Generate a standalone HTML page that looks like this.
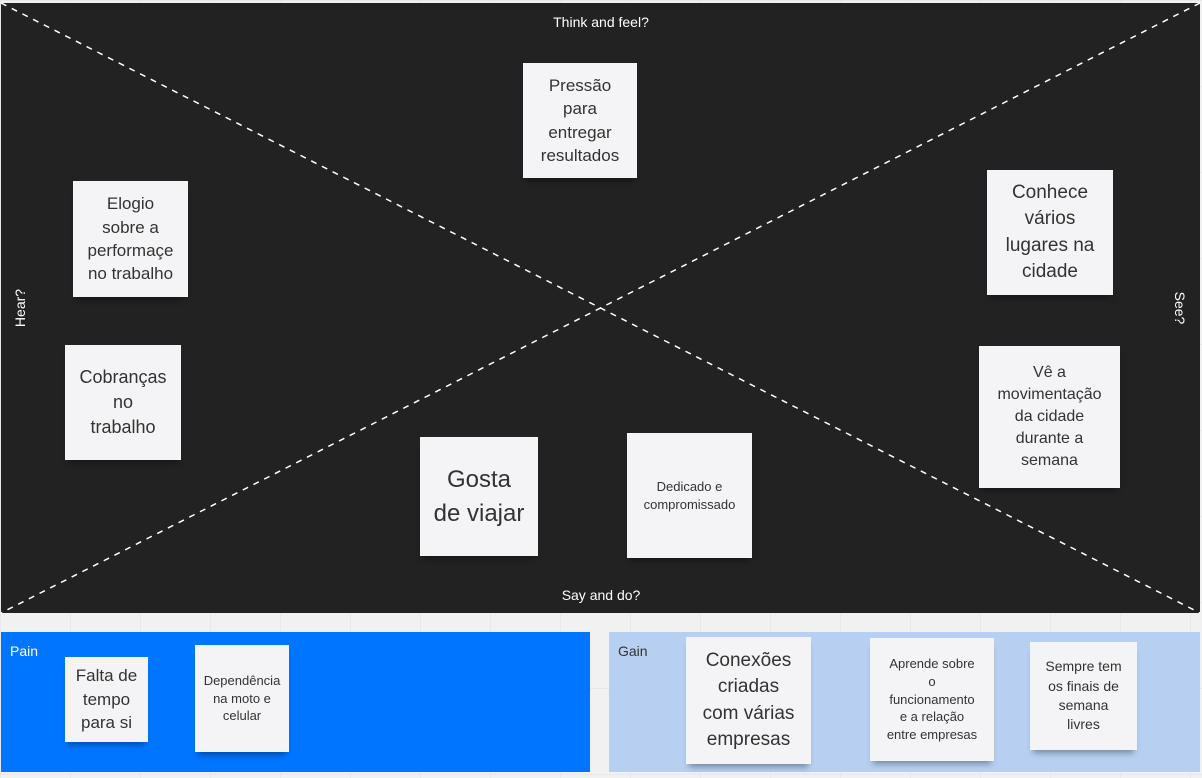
<!DOCTYPE html>
<html><head><meta charset="utf-8"><style>
body{margin:0;width:1202px;height:778px;background:#f1f1f1;position:relative;overflow:hidden;font-family:"Liberation Sans",sans-serif;
background-image:linear-gradient(#e8e8e8 1px,transparent 1px),linear-gradient(90deg,#e8e8e8 1px,transparent 1px);background-size:70px 86px;background-position:0 0}
.n{position:absolute;background:#f4f4f6;color:#333;display:flex;align-items:center;justify-content:center;text-align:center;box-shadow:0 6px 6px -3px rgba(0,0,0,0.35);line-height:1.38;box-sizing:border-box;white-space:nowrap}
.l{position:absolute;color:#fff;font-size:14px}
</style></head><body>
<div style="position:absolute;left:1px;top:3px;width:1199px;height:610px;background:#222"></div>
<svg style="position:absolute;left:0;top:0" width="1202" height="778">
<line x1="1" y1="3" x2="1200" y2="613" stroke="#fff" stroke-width="1.5" stroke-dasharray="6,6"/>
<line x1="1200" y1="3" x2="1" y2="613" stroke="#fff" stroke-width="1.5" stroke-dasharray="6,6"/>
</svg>
<div class="l" style="left:0;width:1202px;top:14px;text-align:center">Think and feel?</div>
<div class="l" style="left:0;width:1202px;top:587px;text-align:center">Say and do?</div>
<div class="l" style="left:0px;top:300px;transform:rotate(-90deg);width:40px;text-align:center">Hear?</div>
<div class="l" style="left:1160px;top:300px;transform:rotate(90deg);width:40px;text-align:center">See?</div>
<div style="position:absolute;left:1px;top:632px;width:589px;height:140px;background:#0075ff"></div>
<div style="position:absolute;left:609px;top:632px;width:591px;height:140px;background:#b7d0f2"></div>
<div class="l" style="left:10px;top:643px">Pain</div>
<div class="l" style="left:618px;top:643px;color:#333">Gain</div>

<div class="n" style="left:523px;top:63px;width:114px;height:115px;font-size:17px">Pressão<br>para<br>entregar<br>resultados</div>
<div class="n" style="left:73px;top:181px;width:115px;height:116px;font-size:17px">Elogio<br>sobre a<br>performaçe<br>no trabalho</div>
<div class="n" style="left:65px;top:345px;width:116px;height:115px;font-size:18px">Cobranças<br>no<br>trabalho</div>
<div class="n" style="left:987px;top:170px;width:126px;height:125px;font-size:19px">Conhece<br>vários<br>lugares na<br>cidade</div>
<div class="n" style="left:979px;top:346px;width:141px;height:142px;font-size:16px">Vê a<br>movimentação<br>da cidade<br>durante a<br>semana</div>
<div class="n" style="left:420px;top:437px;width:118px;height:119px;font-size:24px">Gosta<br>de viajar</div>
<div class="n" style="left:627px;top:433px;width:125px;height:125px;font-size:13px">Dedicado e<br>compromissado</div>
<div class="n" style="left:65px;top:657px;width:83px;height:85px;font-size:17px">Falta de<br>tempo<br>para si</div>
<div class="n" style="left:195px;top:645px;width:94px;height:107px;font-size:13px">Dependência<br>na moto e<br>celular</div>
<div class="n" style="left:686px;top:637px;width:125px;height:127px;font-size:19px">Conexões<br>criadas<br>com várias<br>empresas</div>
<div class="n" style="left:870px;top:638px;width:124px;height:123px;font-size:13px">Aprende sobre<br>o<br>funcionamento<br>e a relação<br>entre empresas</div>
<div class="n" style="left:1030px;top:642px;width:107px;height:108px;font-size:14px">Sempre tem<br>os finais de<br>semana<br>livres</div>
</body></html>
